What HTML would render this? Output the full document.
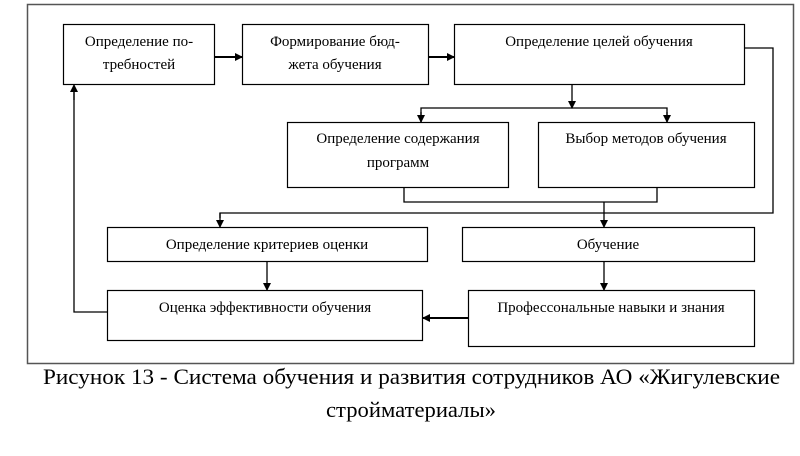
<!DOCTYPE html>
<html><head><meta charset="utf-8"><style>
html,body{margin:0;padding:0;background:#fff;}
svg{display:block;}
text{font-family:"Liberation Serif",serif;fill:#000;}
.b{font-size:15px;}
</style></head><body>
<svg width="800" height="456" viewBox="0 0 800 456" xmlns="http://www.w3.org/2000/svg">
<defs>
<marker id="a" markerWidth="8" markerHeight="8" refX="7" refY="4" orient="auto" markerUnits="userSpaceOnUse">
<path d="M0,0 L8,4 L0,8 z" fill="#000"/></marker>
</defs>
<rect x="27.5" y="4.5" width="766" height="359" fill="none" stroke="#555" stroke-width="1.5"/>
<g fill="none" stroke="#000" stroke-width="1.2">
<rect x="63.5" y="24.5" width="151" height="60"/>
<rect x="242.5" y="24.5" width="186" height="60"/>
<rect x="454.5" y="24.5" width="290" height="60"/>
<rect x="287.5" y="122.5" width="221" height="65"/>
<rect x="538.5" y="122.5" width="216" height="65"/>
<rect x="107.5" y="227.5" width="320" height="34"/>
<rect x="462.5" y="227.5" width="292" height="34"/>
<rect x="107.5" y="290.5" width="315" height="50"/>
<rect x="468.5" y="290.5" width="286" height="56"/>
</g>
<g fill="none" stroke="#000" stroke-width="1.3">
<line x1="215" y1="57" x2="242" y2="57" stroke-width="2" marker-end="url(#a)"/>
<line x1="429" y1="57" x2="454" y2="57" stroke-width="2" marker-end="url(#a)"/>
<line x1="572" y1="85" x2="572" y2="108" marker-end="url(#a)"/>
<polyline points="421,122 421,108 667,108 667,122"/>
<line x1="421" y1="112" x2="421" y2="122" marker-end="url(#a)"/>
<line x1="667" y1="112" x2="667" y2="122" marker-end="url(#a)"/>
<polyline points="404,188 404,202 657,202 657,188"/>
<line x1="604" y1="202" x2="604" y2="227" marker-end="url(#a)"/>
<polyline points="745,48 773,48 773,213 220,213 220,218"/>
<line x1="220" y1="213" x2="220" y2="227" marker-end="url(#a)"/>
<line x1="267" y1="262" x2="267" y2="290" marker-end="url(#a)"/>
<line x1="604" y1="262" x2="604" y2="290" marker-end="url(#a)"/>
<line x1="468" y1="318" x2="423" y2="318" stroke-width="2" marker-end="url(#a)"/>
<polyline points="107,312 74,312 74,90"/>
<line x1="74" y1="100" x2="74" y2="85" marker-end="url(#a)"/>
</g>
<g class="b" text-anchor="middle">
<text x="139" y="46">Определение по-</text>
<text x="139" y="69">требностей</text>
<text x="335" y="46">Формирование бюд-</text>
<text x="335" y="69">жета обучения</text>
<text x="599" y="46">Определение целей обучения</text>
<text x="398" y="143">Определение содержания</text>
<text x="398" y="167">программ</text>
<text x="646" y="143">Выбор методов обучения</text>
<text x="267" y="249">Определение критериев оценки</text>
<text x="608" y="249">Обучение</text>
<text x="265" y="312">Оценка эффективности обучения</text>
<text x="611" y="312">Профессональные навыки и знания</text>
</g>
<text x="43" y="384" font-size="22" textLength="737" lengthAdjust="spacingAndGlyphs">Рисунок 13 - Система обучения и развития сотрудников АО «Жигулевские</text>
<text x="326" y="417" font-size="22" textLength="170" lengthAdjust="spacingAndGlyphs">стройматериалы»</text>
</svg>
</body></html>
